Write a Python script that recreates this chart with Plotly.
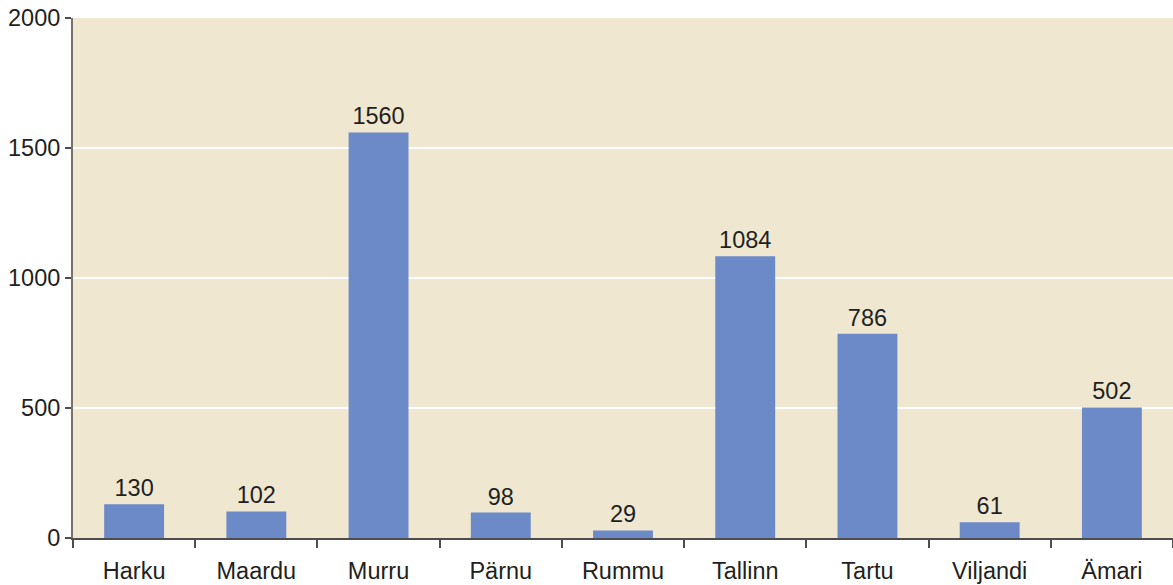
import plotly.graph_objects as go

# kohad ja väärtused
places = ["Harku", "Maardu", "Murru", "Pärnu", "Rummu", "Tallinn", "Tartu", "Viljandi", "Ämari"]
counts = [130, 102, 1560, 98, 29, 1084, 786, 61, 502]
y_ticks = [0, 500, 1000, 1500, 2000]

font_color = "#231F20"

fig = go.Figure()

fig.add_trace(go.Bar(
    x=places, y=counts,
    marker_color="#6B8AC7",
    marker_line_width=0,
    text=counts,
    textposition="outside",
    textfont=dict(size=23.5, color=font_color),
    cliponaxis=False,
    width=0.49,
))

fig.update_layout(
    width=1173, height=585,
    margin=dict(l=73, r=0, t=18, b=47, autoexpand=False),
    paper_bgcolor="white",
    plot_bgcolor="#EFE7D0",
    font=dict(family="Liberation Sans, Arial, sans-serif", size=23.5, color=font_color),
    showlegend=False,
)

fig.update_xaxes(
    automargin=False,
    showline=True, linecolor="#4d4d4d", linewidth=2,
    ticks="outside", tickson="boundaries", ticklen=8, tickcolor="#4d4d4d", tickwidth=1.5,
    ticklabelstandoff=11,
    showgrid=False,
)

fig.update_yaxes(
    automargin=False,
    range=[0, 2000], tickvals=y_ticks,
    showline=True, linecolor="#7a7070", linewidth=2,
    ticks="outside", ticklen=6, tickcolor="#4d4d4d", tickwidth=1.5,
    gridcolor="white", gridwidth=1.5,
    zeroline=False,
)

fig.write_html("out.html", config={"displayModeBar": False})

# drop the default body margin so the figure sits at the page corner
with open("out.html", encoding="utf-8") as f:
    html = f.read()
html = html.replace("<body>", '<body style="margin:0">', 1)
with open("out.html", "w", encoding="utf-8") as f:
    f.write(html)
